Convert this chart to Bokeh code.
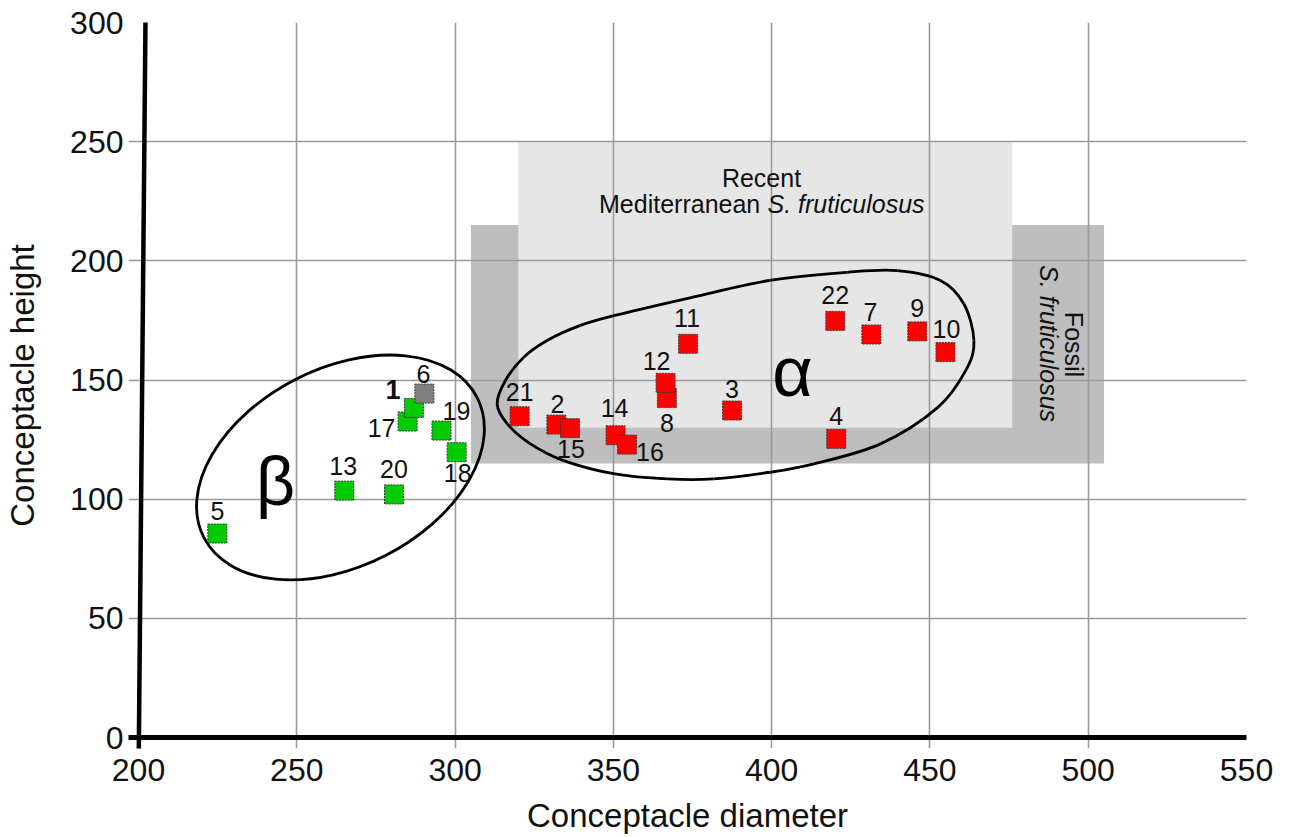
import numpy as np
from bokeh.plotting import figure
from bokeh.models import ColumnDataSource, Range1d, FixedTicker
from bokeh.core.properties import value
from bokeh.embed import file_html
from bokeh.resources import INLINE

# ---------------- data ----------------
point_ids = ["5", "13", "20", "17", "1", "19", "18", "6",
             "21", "2", "15", "14", "16", "8", "12", "11", "3", "4", "22", "7", "9", "10"]
diameter = [224.9, 265.0, 280.7, 285.0, 287.0, 295.7, 300.5, 290.3,
            320.4, 332.0, 336.3, 350.7, 354.3, 366.9, 366.5, 373.6, 387.5, 420.4, 420.1, 431.5, 446.0, 454.9]
height = [85.6, 103.6, 102.0, 132.6, 138.3, 128.8, 119.7, 144.3,
          134.8, 131.3, 129.8, 126.8, 122.9, 142.4, 148.8, 165.2, 137.2, 125.3, 174.8, 169.1, 170.4, 161.7]
group = ["beta"] * 7 + ["other"] + ["alpha"] * 14

# label offsets in screen pixels (dx right, dy down)
label_dx = [0, -1, 0, -26, -21, 15, 1, -1,
            0, 1, 1, -1, 23, 0, -9, -1, 0, 0, 0, -1, 0, 1]
label_dy = [-23, -25, -25, 7, -18, -20, 21, -20,
            -24, -21, 21, -27, 7, 25, -22, -26, -22, -23, -26, -22, -23, -23]

x_ticks = [200, 250, 300, 350, 400, 450, 500, 550]
y_ticks = [0, 50, 100, 150, 200, 250, 300]
x_grid = [250, 300, 350, 400, 450, 500]
y_grid = [50, 100, 150, 200, 250]

# ranges of the two reference zones
fossil_box = dict(left=305, right=505, bottom=115, top=215)
recent_box = dict(left=320, right=476, bottom=130, top=250)

# beta group ellipse
beta_center = (263.8, 113.3)
beta_size = (97.0, 83.0)
beta_angle = 0.473

# alpha group outline (anchor points, closed)
alpha_x = [313.3, 315.9, 321.7, 329.1, 339.6, 350.5, 374.9, 399.4, 423.9, 439.7, 453.3, 460.7,
           463.9, 461.5, 452.5, 434.4, 413.3, 399.4, 381.7, 367.0, 350.5, 334.3, 323.8, 316.5]
alpha_y = [140.0, 149.8, 159.6, 166.6, 172.9, 177.1, 184.7, 191.8, 195.2, 195.9, 191.8, 182.0,
           166.6, 154.5, 138.5, 123.2, 114.8, 111.3, 108.5, 108.5, 110.6, 116.2, 123.2, 131.6]

FONT = "Liberation Sans"
colors = {"beta": "#00cc00", "other": "#808080", "alpha": "#ff0000"}

# ---------------- figure ----------------
p = figure(width=1281, height=836, output_backend="svg", toolbar_location=None,
           x_range=Range1d(196.84, 550), y_range=Range1d(-4.6, 300),
           min_border_left=128, min_border_right=35, min_border_top=22, min_border_bottom=88)
p.outline_line_color = None
p.background_fill_color = "white"

p.xgrid.ticker = FixedTicker(ticks=x_grid)
p.ygrid.ticker = FixedTicker(ticks=y_grid)
for g in (p.xgrid, p.ygrid):
    g.grid_line_color = "#9a9a9a"
    g.grid_line_width = 1.6
    g.level = "glyph"

for ax, ticks in ((p.xaxis, x_ticks), (p.yaxis, y_ticks)):
    ax.ticker = FixedTicker(ticks=ticks)
    ax.axis_line_color = None
    ax.major_tick_line_color = None
    ax.minor_tick_line_color = None
    ax.major_tick_out = 0
    ax.major_tick_in = 0
    ax.major_label_text_font = FONT
    ax.major_label_text_font_size = "32px"
    ax.major_label_text_color = "#111111"
    ax.axis_label_text_font = FONT
    ax.axis_label_text_font_size = "33px"
    ax.axis_label_text_font_style = "normal"
    ax.axis_label_text_color = "#111111"

p.xaxis.axis_label = "Conceptacle diameter"
p.yaxis.axis_label = "Conceptacle height"
p.xaxis.major_label_standoff = 10
p.xaxis.axis_label_standoff = 13
p.yaxis.major_label_standoff = 5
p.yaxis.axis_label_standoff = 26

# zones
p.quad(left=[fossil_box["left"]], right=[fossil_box["right"]], bottom=[fossil_box["bottom"]],
       top=[fossil_box["top"]], fill_color="#bebebe", line_color=None, level="underlay")
p.quad(left=[recent_box["left"]], right=[recent_box["right"]], bottom=[recent_box["bottom"]],
       top=[recent_box["top"]], fill_color="#e6e6e6", line_color=None, level="underlay")

# axis lines
p.segment(x0=[196.84], y0=[0], x1=[550], y1=[0], line_color="black", line_width=5, level="annotation")
p.segment(x0=[200.1], y0=[-4.6], x1=[202.2], y1=[300], line_color="black", line_width=4.5, level="annotation")

# zone texts
TS = "25px"
p.text(x=[396.8], y=[234.7], text=["Recent"], text_align="center", text_baseline="alphabetic",
       text_font=value(FONT), text_font_size=TS, text_color="#111111", level="annotation")
p.text(x=[396.4], y=[223.9], text=["Mediterranean"], text_align="right", text_baseline="alphabetic",
       text_font=value(FONT), text_font_size=TS, text_color="#111111", level="annotation")
p.text(x=[398.7], y=[223.9], text=["S. fruticulosus"], text_align="left", text_baseline="alphabetic",
       text_font=value(FONT), text_font_size=TS, text_font_style="italic", text_color="#111111",
       level="annotation")
p.text(x=[495.4], y=[164.9], text=["Fossil"], angle=-np.pi / 2, text_align="center", text_baseline="middle",
       text_font=value(FONT), text_font_size=TS, text_color="#111111", level="annotation")
p.text(x=[487.5], y=[165.3], text=["S. fruticulosus"], angle=-np.pi / 2, text_align="center",
       text_baseline="middle", text_font=value(FONT), text_font_size=TS, text_font_style="italic",
       text_color="#111111", level="annotation")

# beta ellipse
p.ellipse(x=[beta_center[0]], y=[beta_center[1]], width=[beta_size[0]], height=[beta_size[1]],
          angle=beta_angle, fill_color=None, line_color="black", line_width=2.8, level="annotation")

# alpha outline as closed Catmull-Rom bezier chain
ax_ = np.array(alpha_x)
ay_ = np.array(alpha_y)
n = len(ax_)
i0 = np.arange(n)
im1 = (i0 - 1) % n
ip1 = (i0 + 1) % n
ip2 = (i0 + 2) % n
p.bezier(x0=ax_, y0=ay_, x1=ax_[ip1], y1=ay_[ip1],
         cx0=ax_ + (ax_[ip1] - ax_[im1]) / 6, cy0=ay_ + (ay_[ip1] - ay_[im1]) / 6,
         cx1=ax_[ip1] - (ax_[ip2] - ax_) / 6, cy1=ay_[ip1] - (ay_[ip2] - ay_) / 6,
         line_color="black", line_width=2.8, level="annotation")

# group letters
p.text(x=[243.3], y=[107.8], text=["β"], text_align="center", text_baseline="alphabetic",
       text_font=value(FONT), text_font_size="68px", text_color="black", level="annotation")
p.text(x=[406.6], y=[153.3], text=["α"], text_align="center", text_baseline="alphabetic",
       text_font=value(FONT), text_font_size="70px", text_color="black", level="annotation")

# points
src = ColumnDataSource(dict(x=diameter, y=height, label=point_ids,
                            color=[colors[g] for g in group], dx=label_dx, dy=label_dy))
p.scatter(x="x", y="y", source=src, marker="square", size=19, fill_color="color",
          line_color="#3a3a3a", line_width=1, line_dash="2 1", level="annotation")

norm_idx = [i for i, t in enumerate(point_ids) if t != "1"]
bold_idx = [i for i, t in enumerate(point_ids) if t == "1"]
src_norm = ColumnDataSource(dict(x=[diameter[i] for i in norm_idx], y=[height[i] for i in norm_idx],
                                 label=[point_ids[i] for i in norm_idx],
                                 dx=[label_dx[i] for i in norm_idx], dy=[label_dy[i] for i in norm_idx]))
src_bold = ColumnDataSource(dict(x=[diameter[i] for i in bold_idx], y=[height[i] for i in bold_idx],
                                 label=[point_ids[i] for i in bold_idx],
                                 dx=[label_dx[i] for i in bold_idx], dy=[label_dy[i] for i in bold_idx]))
p.text(x="x", y="y", text="label", source=src_norm, x_offset="dx", y_offset="dy",
       text_align="center", text_baseline="middle", text_font=value(FONT), text_font_size="25px",
       text_color="#111111", level="annotation")
p.text(x="x", y="y", text="label", source=src_bold, x_offset="dx", y_offset="dy",
       text_align="center", text_baseline="middle", text_font=value(FONT), text_font_size="27px",
       text_font_style="bold", text_color="#111111", level="annotation")

open("out.html", "w").write(file_html(p, INLINE))
